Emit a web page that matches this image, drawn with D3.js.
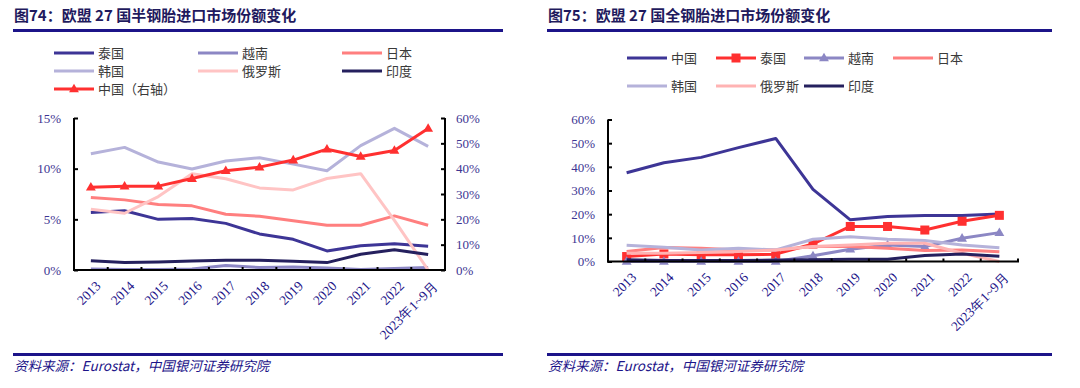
<!DOCTYPE html>
<html>
<head>
<meta charset="utf-8">
<script src="https://d3js.org/d3.v7.min.js"></script>
<style>
  body { margin: 0; background: #fff; }
  svg { display: block; }
</style>
</head>
<body>
<svg id="chart" width="1080" height="388"></svg>
<script>
// categories shared by both charts
const years = ["2013", "2014", "2015", "2016", "2017", "2018", "2019", "2020", "2021", "2022", "2023年1~9月"];

// 图74 半钢胎 (left axis %, 中国 on right axis)
const semiThai   = [5.67, 5.84, 5.0, 5.08, 4.6, 3.56, 3.03, 1.88, 2.4, 2.6, 2.34];
const semiViet   = [0.1, 0.05, 0.05, 0.1, 0.45, 0.25, 0.3, 0.2, 0.05, 0.15, 0.25];
const semiJapan  = [7.15, 6.92, 6.46, 6.33, 5.5, 5.3, 4.85, 4.42, 4.42, 5.34, 4.42];
const semiKorea  = [11.47, 12.1, 10.65, 9.96, 10.75, 11.08, 10.45, 9.8, 12.27, 13.98, 12.2];
const semiRussia = [6.0, 5.6, 7.25, 9.5, 9.0, 8.1, 7.9, 9.03, 9.5, 4.9, 0];
const semiIndia  = [0.92, 0.73, 0.79, 0.89, 0.96, 0.96, 0.86, 0.73, 1.55, 2.0, 1.52];
const semiChina  = [32.7, 33.1, 33.1, 36.1, 39.2, 40.6, 43.4, 47.7, 44.8, 47.2, 55.9];

// 图75 全钢胎
const allChina  = [37.5, 41.7, 44.0, 48.1, 52.0, 30.5, 17.6, 19.0, 19.4, 19.4, 20.1];
const allThai   = [2.1, 3.2, 2.8, 2.8, 3.1, 7.4, 14.8, 14.8, 13.3, 17.0, 19.5];
const allViet   = [0, 0, 0, 0, 0, 2.4, 5.2, 7.0, 6.3, 9.8, 12.2];
const allJapan  = [4.2, 5.9, 5.6, 4.9, 4.9, 6.3, 6.3, 5.6, 4.6, 4.9, 4.1];
const allKorea  = [6.9, 6.0, 4.9, 5.6, 4.9, 9.4, 10.5, 9.4, 8.9, 7.0, 5.8];
const allRussia = [3.5, 3.5, 3.8, 4.2, 4.9, 6.3, 7.0, 7.7, 7.7, 3.5, 0];
const allIndia  = [0.7, 0.4, 0.4, 0.4, 0.6, 0.7, 1.0, 1.0, 2.5, 3.2, 2.2];

const leftTicks = [0, 5, 10, 15];
const rightTicks = [0, 10, 20, 30, 40, 50, 60];
const allTicks = [0, 10, 20, 30, 40, 50, 60];

const C = {
  blue: "#3d3596", viet: "#8c87c4", japan: "#ff7f7f", korea: "#b5b2da",
  russia: "#ffc4c4", india: "#25205e", red: "#ff3030"
};
const navy = "#1c1489";
const tickColor = "#3d3592";

const svg = d3.select("#chart");

function header(x0, x1, title) {
  svg.append("text").attr("x", x0 + 1).attr("y", 21)
    .attr("font-family", "'Noto Sans CJK SC', sans-serif").attr("font-weight", "bold")
    .attr("font-size", 15).attr("fill", "#1f1a5e").text(title);
  svg.append("line").attr("x1", x0).attr("x2", x1).attr("y1", 30.5).attr("y2", 30.5)
    .attr("stroke", navy).attr("stroke-width", 3);
  svg.append("line").attr("x1", x0).attr("x2", x1).attr("y1", 354.5).attr("y2", 354.5)
    .attr("stroke", navy).attr("stroke-width", 3);
  svg.append("text").attr("x", x0 + 1).attr("y", 371)
    .attr("font-family", "'Noto Sans CJK SC', sans-serif").attr("font-style", "italic")
    .attr("font-size", 13.5).attr("fill", navy)
    .text("资料来源：Eurostat，中国银河证券研究院");
}

function marker(g, type, x, y, color) {
  if (type === "tri") {
    g.append("path").attr("d", d3.symbol(d3.symbolTriangle, 42)())
      .attr("transform", `translate(${x},${y + 0.5})`).attr("fill", color);
  } else if (type === "sq") {
    g.append("rect").attr("x", x - 4.5).attr("y", y - 4.5).attr("width", 9).attr("height", 9)
      .attr("fill", color);
  }
}

function legend(items) {
  items.forEach(it => {
    const g = svg.append("g");
    g.append("line").attr("x1", it.x).attr("x2", it.x + 40).attr("y1", it.y).attr("y2", it.y)
      .attr("stroke", it.color).attr("stroke-width", 3);
    if (it.m) marker(g, it.m, it.x + 20, it.y, it.color);
    g.append("text").attr("x", it.x + 44).attr("y", it.y).attr("dy", "0.36em")
      .attr("font-family", "'Noto Sans CJK SC', sans-serif").attr("font-size", 13)
      .attr("fill", "#3a3a3a").text(it.name);
  });
}

function plot(cfg) {
  const x = d3.scaleBand().domain(years).range([cfg.left, cfg.right]);
  const px = d => x(d) + x.bandwidth() / 2;
  const y = d3.scaleLinear().domain([0, cfg.yMax]).range([cfg.bottom, cfg.top]);
  const y2 = cfg.y2Max ? d3.scaleLinear().domain([0, cfg.y2Max]).range([cfg.bottom, cfg.top]) : null;

  const g = svg.append("g");

  cfg.series.forEach(s => {
    const sc = s.right ? y2 : y;
    const line = d3.line().x((d, i) => px(years[i])).y(d => sc(d));
    g.append("path").datum(s.values).attr("d", line)
      .attr("fill", "none").attr("stroke", s.color).attr("stroke-width", 3)
      .attr("stroke-linejoin", "round");
    if (s.m) s.values.forEach((v, i) => marker(g, s.m, px(years[i]), sc(v), s.color));
  });

  // left axis
  const ax = svg.append("g").attr("transform", `translate(${cfg.left},0)`)
    .call(d3.axisLeft(y).tickValues(cfg.yTicks).tickSize(-4).tickPadding(13).tickFormat(d => d + "%"));
  ax.select(".domain").attr("stroke", "#000").attr("stroke-width", 2).attr("d", `M0,${cfg.top}V${cfg.bottom + 1}`);
  ax.selectAll(".tick line").attr("stroke", "#000").attr("stroke-width", 2);
  ax.selectAll(".tick text").attr("font-family", "'Liberation Serif', serif").attr("font-size", 13).attr("fill", tickColor);

  if (y2) {
    const ar = svg.append("g").attr("transform", `translate(${cfg.right},0)`)
      .call(d3.axisRight(y2).tickValues(cfg.y2Ticks).tickSize(-4).tickPadding(11).tickFormat(d => d + "%"));
    ar.select(".domain").attr("stroke", "#000").attr("stroke-width", 2).attr("d", `M0,${cfg.top}V${cfg.bottom + 1}`);
    ar.selectAll(".tick line").attr("stroke", "#000").attr("stroke-width", 2);
    ar.selectAll(".tick text").attr("font-family", "'Liberation Serif', serif").attr("font-size", 13).attr("fill", tickColor);
  }

  // x axis
  svg.append("line").attr("x1", cfg.left - 1).attr("x2", cfg.right + 1).attr("y1", cfg.bottom).attr("y2", cfg.bottom)
    .attr("stroke", "#000").attr("stroke-width", 2);
  const bounds = years.slice(1).map(d => x(d));
  if (!y2) bounds.push(cfg.right);
  svg.append("g").selectAll("line").data(bounds).join("line")
    .attr("x1", d => d).attr("x2", d => d).attr("y1", cfg.bottom).attr("y2", cfg.bottom - 3)
    .attr("stroke", "#000").attr("stroke-width", 2);

  svg.append("g").selectAll("text").data(years).join("text")
    .attr("transform", d => `translate(${px(d) + 4},${cfg.bottom + 10}) rotate(-45)`)
    .attr("text-anchor", "end").attr("dy", "0.7em")
    .attr("font-family", "'Liberation Serif', serif").attr("font-size", 13.5).attr("fill", navy)
    .text(d => d);
}

// left chart
header(13, 503, "图74：欧盟 27 国半钢胎进口市场份额变化");
legend([
  { x: 54, y: 53, name: "泰国", color: C.blue },
  { x: 198, y: 53, name: "越南", color: C.viet },
  { x: 342, y: 53, name: "日本", color: C.japan },
  { x: 54, y: 71, name: "韩国", color: C.korea },
  { x: 198, y: 71, name: "俄罗斯", color: C.russia },
  { x: 342, y: 71, name: "印度", color: C.india },
  { x: 54, y: 89, name: "中国（右轴）", color: C.red, m: "tri" }
]);
plot({
  left: 74, right: 445, top: 118, bottom: 270, yMax: 15, yTicks: leftTicks,
  y2Max: 60, y2Ticks: rightTicks,
  series: [
    { values: semiThai, color: C.blue },
    { values: semiViet, color: C.viet },
    { values: semiJapan, color: C.japan },
    { values: semiKorea, color: C.korea },
    { values: semiRussia, color: C.russia },
    { values: semiIndia, color: C.india },
    { values: semiChina, color: C.red, m: "tri", right: true }
  ]
});

// right chart
header(547, 1052, "图75：欧盟 27 国全钢胎进口市场份额变化");
legend([
  { x: 627, y: 58, name: "中国", color: C.blue },
  { x: 716, y: 58, name: "泰国", color: C.red, m: "sq" },
  { x: 804, y: 58, name: "越南", color: C.viet, m: "tri" },
  { x: 893, y: 58, name: "日本", color: C.japan },
  { x: 627, y: 86, name: "韩国", color: C.korea },
  { x: 716, y: 86, name: "俄罗斯", color: "#ffb3b3" },
  { x: 804, y: 86, name: "印度", color: C.india }
]);
plot({
  left: 608, right: 1018, top: 119.5, bottom: 261.5, yMax: 60, yTicks: allTicks,
  series: [
    { values: allChina, color: C.blue },
    { values: allThai, color: C.red, m: "sq" },
    { values: allViet, color: C.viet, m: "tri" },
    { values: allJapan, color: C.japan },
    { values: allKorea, color: C.korea },
    { values: allRussia, color: "#ffb3b3" },
    { values: allIndia, color: C.india }
  ]
});
</script>
</body>
</html>
